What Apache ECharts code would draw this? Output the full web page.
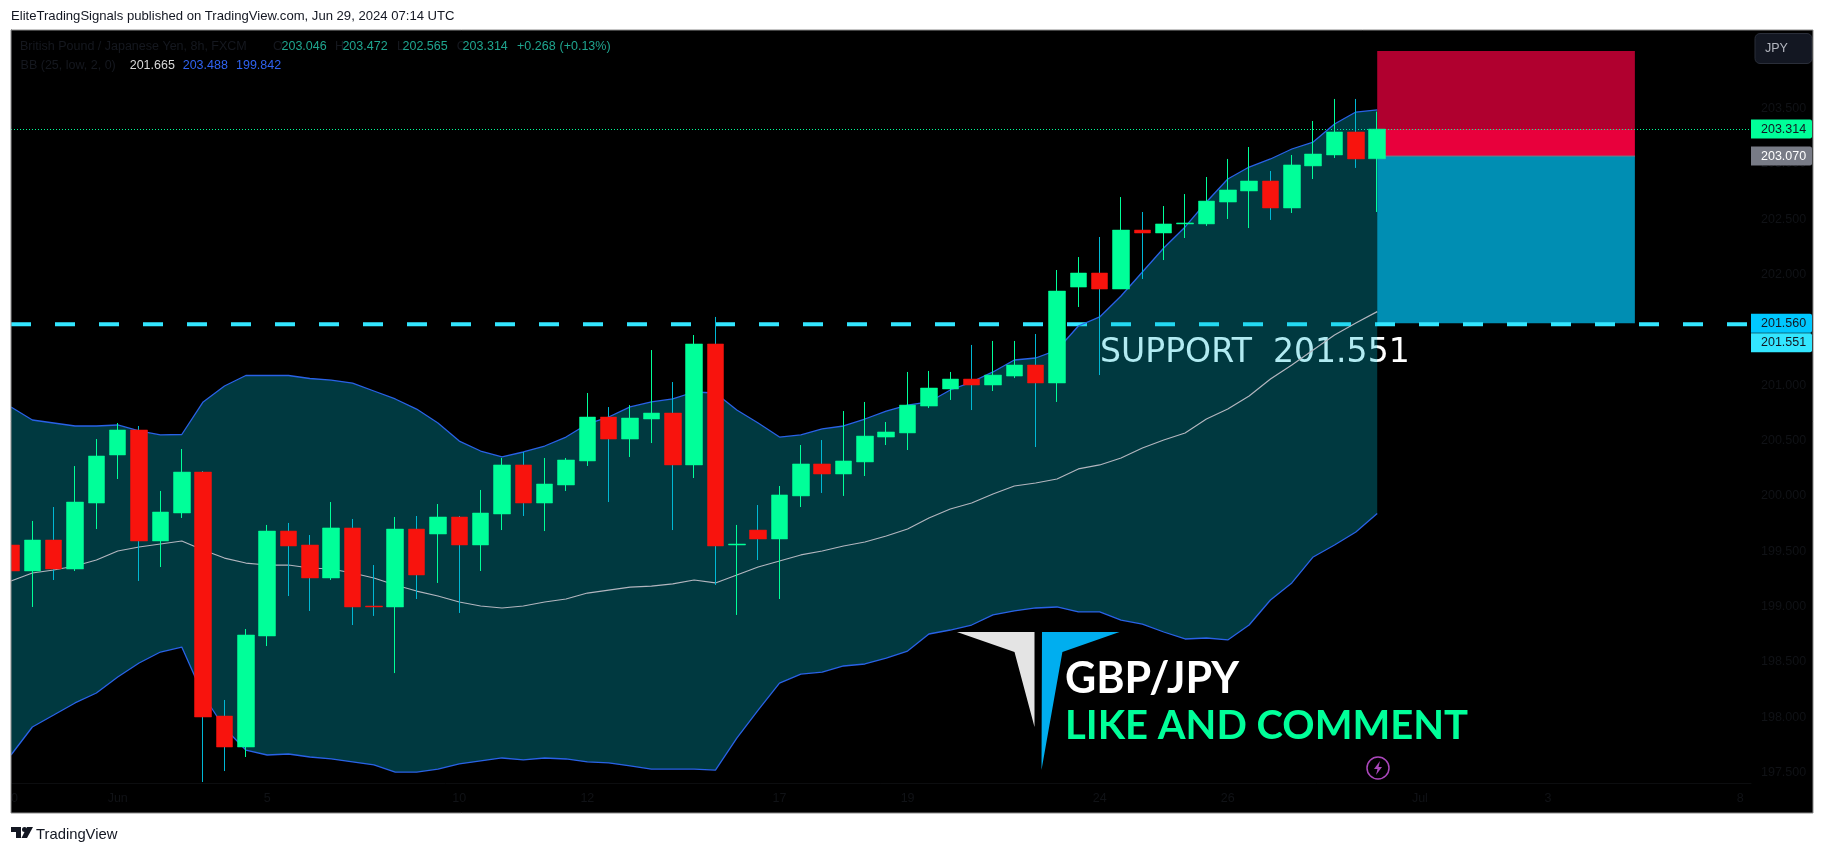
<!DOCTYPE html>
<html><head><meta charset="utf-8">
<style>html,body{margin:0;padding:0;background:#fff}#main{width:1825px;height:853px}</style>
<script src="https://cdn.jsdelivr.net/npm/echarts@6/dist/echarts.min.js"></script>
</head><body><div id="main"></div>
<script>
const opens=[199.557,199.322,199.602,199.340,199.936,200.370,200.596,199.593,199.846,200.216,198.012,197.732,198.735,199.683,199.557,199.259,199.711,199.006,198.997,199.701,199.656,199.810,199.557,199.837,200.280,199.936,200.099,200.316,200.713,200.514,200.695,200.749,200.280,201.373,199.557,199.692,199.611,200.000,200.289,200.198,200.307,200.532,200.569,200.812,200.966,201.056,201.002,201.083,201.183,201.020,201.887,202.014,201.869,202.402,202.375,202.457,202.457,202.655,202.755,202.845,202.601,202.981,203.080,203.288,203.046];
const closes=[199.322,199.602,199.340,199.945,200.361,200.596,199.593,199.855,200.216,198.003,197.732,198.744,199.683,199.548,199.259,199.711,198.997,198.997,199.701,199.286,199.810,199.557,199.846,200.280,199.936,200.108,200.325,200.713,200.514,200.704,200.749,200.280,201.373,199.548,199.566,199.611,200.009,200.289,200.198,200.316,200.541,200.578,200.821,200.975,201.056,201.002,201.092,201.183,201.020,201.851,202.014,201.869,202.402,202.375,202.457,202.466,202.664,202.764,202.845,202.601,202.990,203.089,203.288,203.044,203.314];
const lows=[198.762,198.997,199.241,199.322,199.701,200.153,199.232,199.358,199.801,197.416,197.515,197.642,198.644,199.096,198.961,199.241,198.834,198.916,198.400,199.069,199.214,198.943,199.322,199.692,199.819,199.683,200.045,200.271,199.945,200.352,200.478,199.692,200.162,199.196,198.925,199.421,199.069,199.900,200.027,200.000,200.180,200.460,200.415,200.794,200.867,200.776,200.948,201.065,200.442,200.849,201.707,201.092,201.869,201.960,202.131,202.330,202.439,202.502,202.420,202.493,202.556,202.863,203.053,202.963,202.565];
const highs=[199.674,199.774,199.900,200.270,200.514,200.659,200.632,200.045,200.424,200.225,198.157,198.798,199.738,199.756,199.647,199.945,199.792,199.376,199.810,199.819,199.927,199.819,200.054,200.343,200.397,200.343,200.343,200.930,200.803,200.821,201.318,201.029,201.454,201.617,199.738,199.918,200.090,200.460,200.505,200.767,200.849,200.668,201.120,201.129,201.120,201.364,201.400,201.400,201.463,202.041,202.158,202.339,202.700,202.565,202.619,202.727,202.881,203.044,203.152,202.935,203.080,203.387,203.586,203.586,203.472];
const bbUpper=[200.804,200.686,200.659,200.632,200.632,200.641,200.587,200.551,200.555,200.849,200.993,201.088,201.088,201.088,201.061,201.047,201.020,200.948,200.876,200.785,200.659,200.496,200.406,200.352,200.397,200.451,200.532,200.650,200.713,200.804,200.849,200.876,200.939,200.930,200.776,200.659,200.532,200.551,200.605,200.632,200.695,200.767,200.821,200.849,200.957,201.029,201.120,201.228,201.246,201.318,201.535,201.617,201.806,202.023,202.240,202.430,202.655,202.863,202.971,203.044,203.134,203.197,203.360,203.468,203.488];
const bbLower=[197.660,197.913,198.021,198.130,198.220,198.365,198.491,198.590,198.635,198.202,197.904,197.705,197.660,197.669,197.642,197.624,197.597,197.570,197.506,197.506,197.533,197.579,197.606,197.633,197.615,197.633,197.624,197.597,197.588,197.561,197.533,197.533,197.533,197.524,197.813,198.066,198.310,198.391,198.409,198.464,198.482,198.536,198.599,198.753,198.789,198.834,198.925,198.961,198.988,198.997,198.952,198.952,198.879,198.843,198.771,198.708,198.717,198.699,198.834,199.060,199.214,199.449,199.557,199.674,199.842];
const bbBasis=[199.232,199.304,199.331,199.367,199.421,199.503,199.539,199.566,199.593,199.512,199.439,199.394,199.376,199.376,199.349,199.340,199.304,199.259,199.196,199.141,199.096,199.042,199.006,198.988,199.006,199.042,199.069,199.123,199.150,199.177,199.186,199.205,199.241,199.214,199.286,199.358,199.412,199.467,199.503,199.548,199.584,199.638,199.701,199.801,199.882,199.936,200.018,200.090,200.117,200.153,200.244,200.280,200.343,200.433,200.505,200.569,200.695,200.785,200.903,201.056,201.183,201.318,201.454,201.562,201.665];
const priceTicks=[197.5,198,198.5,199,199.5,200,200.5,201,201.5,202,202.5,203,203.5];
const timeTickIndex=[0,5,12,21,27,36,42,51,57,66,72,81];
const timeTickText=['30','Jun','5','10','12','17','19','24','26','Jul','3','8'];
const zoneTop=[204.019,203.314,203.070];
const zoneBottom=[203.314,203.070,201.560];
const zoneStart=64, zoneEnd=76.07;
const lastPrice=203.314, supportPrice=201.551;
const tagPrices=[203.314,203.070,201.560,201.551];
const tagTexts=['203.314','203.070','201.560','201.551'];

const X_MAX=81.51, Y_MIN=197.407, Y_MAX=204.209;
const GREEN='#00ff99', RED='#f8130d', CYANW='#00b8d4', BLUE='#2962e6', DARK='#15181f', AXISTXT='#101216';
const zoneColors=['#b0002f','#e8003c','#008eb3'];
const tagBg=['#00ff99','#787b86','#00c8ff','#33e6ff'];
const tagFg=['#131722','#ffffff','#131722','#131722'];
const tagShift=[0,0,0,18.5];
const idx=opens.map((_,i)=>i);
const FONT='"Liberation Sans",Arial,sans-serif';

const T=(text,x,y,fill,size,extra)=>Object.assign({type:'text',x,y,silent:true,z:110,style:{text,fill,font:(size||12.5)+'px '+FONT,textVerticalAlign:'middle',textAlign:'left'}},extra||{});

const legend=[
 ['British Pound / Japanese Yen, 8h, FXCM',20,DARK],['O',273,DARK],['203.046',281.5,'#1fa58f'],['H',335,DARK],['203.472',342.4,'#1fa58f'],
 ['L',397,DARK],['202.565',402.5,'#1fa58f'],['C',456.7,DARK],['203.314',462.6,'#1fa58f'],['+0.268',517,'#1fa58f'],['(+0.13%)',559.5,'#1fa58f']];
const legend2=[['BB (25, low, 2, 0)',20.6,DARK],['201.665',129.7,'#d8d8d8'],['203.488',182.7,'#2f62f0'],['199.842',236,'#2f62f0']];

const graphics=[
 {type:'rect',silent:true,z:-10,shape:{x:11,y:30,width:1802,height:783},style:{fill:'#000'}},
 {type:'text',silent:true,z:-5,x:1100,y:353,style:{text:'SUPPORT  201.551',fill:'#fff',font:'33.1px "DejaVu Sans"',textVerticalAlign:'middle'}},
 {type:'polygon',silent:true,z:100,shape:{points:[[957,632],[1034.5,632],[1034.5,727],[1014.5,652]]},style:{fill:'#e4e4e4'}},
 {type:'polygon',silent:true,z:100,shape:{points:[[1042,632],[1119.5,632],[1062.4,652],[1041.5,770]]},style:{fill:'#00aeef'}},
 {type:'text',silent:true,z:100,x:1065,y:679,style:{text:'GBP/JPY',fill:'#fff',font:'bold 43px Lato,"DejaVu Sans"',textVerticalAlign:'middle'}},
 {type:'text',silent:true,z:100,x:1065,y:726,style:{text:'LIKE AND COMMENT',fill:'#00ff99',font:'bold 40px Lato,"DejaVu Sans"',textVerticalAlign:'middle'}},
 {type:'circle',silent:true,z:100,shape:{cx:1378,cy:768,r:11},style:{fill:'none',stroke:'#ab47bc',lineWidth:1.5}},
 {type:'polygon',silent:true,z:100,shape:{points:[[1380,761],[1374,769],[1377.5,769],[1376,775],[1382,767],[1378.5,767]]},style:{fill:'#ab47bc'}},
 {type:'rect',silent:true,z:100,shape:{x:1755,y:33.5,width:57,height:30,r:5},style:{fill:'#131722',stroke:'#2a2e39',lineWidth:1}},
 T('JPY',1765,48.5,'#b2b5be',12.5),
 {type:'rect',silent:true,z:200,shape:{x:0,y:30,width:11,height:783},style:{fill:'#fff'}},
 {type:'rect',silent:true,z:201,shape:{x:11,y:30,width:1802,height:783},style:{fill:'none',stroke:'#8a8a8a',lineWidth:1}},
 T('EliteTradingSignals published on TradingView.com, Jun 29, 2024 07:14 UTC',11,16.5,'#131722',13.1),
 T('TradingView',36,834.5,'#131722',14.8),
 {type:'polygon',silent:true,z:110,shape:{points:[[11,827],[21,827],[21,838],[16,838],[16,832],[11,832]]},style:{fill:'#131722'}},
 {type:'circle',silent:true,z:110,shape:{cx:24.5,cy:829.5,r:2.5},style:{fill:'#131722'}},
 {type:'polygon',silent:true,z:110,shape:{points:[[27,827],[33,827],[27,838],[21.5,838]]},style:{fill:'#131722'}}
];
legend.forEach(l=>graphics.push(T(l[0],l[1],46.7,l[2])));
legend2.forEach(l=>graphics.push(T(l[0],l[1],65.7,l[2])));

const option={
 animation:false,backgroundColor:'#fff',
 grid:{left:11,right:74,top:30,bottom:70,containLabel:false},
 tooltip:{show:false},legend:{show:false},
 xAxis:{type:'value',min:0,max:X_MAX,splitLine:{show:false},axisTick:{show:false},
  axisLine:{show:true,lineStyle:{color:'#0c0d0f',width:1}},
  axisLabel:{customValues:timeTickIndex,color:AXISTXT,fontFamily:'Liberation Sans',fontSize:12.5,margin:9,
   formatter:v=>timeTickText[timeTickIndex.indexOf(Math.round(v))]||''}},
 yAxis:{type:'value',position:'right',min:Y_MIN,max:Y_MAX,scale:true,splitLine:{show:false},axisTick:{show:false},
  axisLine:{show:true,lineStyle:{color:'#0c0d0f',width:1}},
  axisLabel:{customValues:priceTicks,color:AXISTXT,fontFamily:'Liberation Sans',fontSize:12.5,margin:10,align:'left',formatter:v=>v.toFixed(3)}},
 graphic:{elements:graphics},
 series:[
  {name:'zones',type:'custom',z:1,silent:true,
   data:zoneTop.map((t,i)=>[zoneStart,zoneEnd,zoneBottom[i],t]),
   encode:{x:[0,1],y:[2,3]},
   renderItem:(p,api)=>{
     const a=api.coord([api.value(0),api.value(3)]),b=api.coord([api.value(1),api.value(2)]);
     return {type:'rect',shape:{x:a[0],y:a[1],width:b[0]-a[0],height:b[1]-a[1]},style:{fill:zoneColors[p.dataIndex]}};
   }},
  {name:'entry',type:'line',z:1,silent:true,symbol:'none',data:[[zoneStart,zoneBottom[1]],[zoneEnd,zoneBottom[1]]],lineStyle:{color:'#787b86',width:1}},
  {name:'support',type:'line',z:1,silent:true,symbol:'none',data:[[0,supportPrice],[X_MAX,supportPrice]],lineStyle:{color:'#33e6ff',width:4,type:[20,24],cap:'butt'}},
  {name:'last',type:'custom',z:1,silent:true,data:[[0,lastPrice]],
   renderItem:(p,api)=>{
     const a=api.coord([0,api.value(1)]),b=api.coord([X_MAX,api.value(1)]),y=Math.floor(a[1])+0.5;
     return {type:'line',shape:{x1:a[0],y1:y,x2:b[0],y2:y},style:{stroke:'#00ff99',lineWidth:1,lineDash:[1,2]}};
   }},
  {name:'bandFill',type:'custom',z:2,silent:true,data:[[0,bbLower[0]]],
   renderItem:(p,api)=>{
     const pts=bbUpper.map((v,i)=>api.coord([i,v])).concat(bbLower.map((v,i)=>api.coord([i,v])).reverse());
     return {type:'polygon',shape:{points:pts},style:{fill:'rgba(0,188,212,0.3)'}};
   }},
  {name:'BB upper',type:'line',z:3,silent:true,symbol:'none',data:bbUpper.map((v,i)=>[i,v]),lineStyle:{color:BLUE,width:1.3}},
  {name:'BB lower',type:'line',z:3,silent:true,symbol:'none',data:bbLower.map((v,i)=>[i,v]),lineStyle:{color:BLUE,width:1.3}},
  {name:'BB basis',type:'line',z:3,silent:true,symbol:'none',data:bbBasis.map((v,i)=>[i,v]),lineStyle:{color:'#b2b5be',width:1.2}},
  {name:'wicks',type:'candlestick',z:4,silent:true,barWidth:1,
   encode:{x:0,y:[1,2,3,4]},
   data:idx.map(i=>[i,opens[i],closes[i],lows[i],highs[i]]),
   itemStyle:{color:GREEN,color0:CYANW,borderColor:GREEN,borderColor0:CYANW,borderWidth:1}},
  {name:'bodies',type:'candlestick',z:5,silent:true,barWidth:17,
   encode:{x:0,y:[1,2,3,4]},
   data:idx.map(i=>[i,opens[i],closes[i],Math.min(opens[i],closes[i]),Math.max(opens[i],closes[i])]),
   itemStyle:{color:GREEN,color0:RED,borderColor:GREEN,borderColor0:RED,borderWidth:0.5}},
  {name:'tags',type:'custom',z:6,silent:true,clip:false,
   data:tagPrices.map(v=>[X_MAX,v]),
   renderItem:(p,api)=>{
     const c=api.coord([api.value(0),api.value(1)]),i=p.dataIndex,y=c[1]+tagShift[i];
     return {type:'group',children:[
      {type:'rect',shape:{x:c[0],y:y-9.5,width:61,height:19,r:[0,2,2,0]},style:{fill:tagBg[i]}},
      {type:'text',x:c[0]+10,y:y,style:{text:tagTexts[i],fill:tagFg[i],font:'12.5px '+FONT,textVerticalAlign:'middle',textAlign:'left'}}
     ]};
   }}
 ]
};
const chart=echarts.init(document.getElementById('main'),null,{width:1825,height:853});
chart.setOption(option);
</script></body></html>
